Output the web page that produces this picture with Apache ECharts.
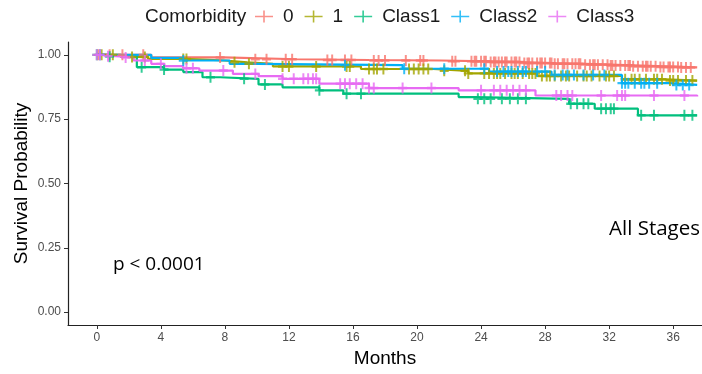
<!DOCTYPE html>
<html>
<head>
<meta charset="utf-8">
<script src="https://cdn.jsdelivr.net/npm/echarts@6/dist/echarts.min.js"></script>
<style>
    html, body { margin: 0; padding: 0; background: #fff; }
    #chart { width: 702px; height: 374px; }
</style>
</head>
<body>
<div id="chart"></div>
<script>
    // Kaplan-Meier steps (months, survival)
    const groupNames = ['0', '1', 'Class1', 'Class2', 'Class3'];
    const groupColors = ['#F8766D', '#A3A500', '#00BF7D', '#00B0F6', '#E76BF3'];

    const time0 = [0, 3.4, 7.9, 12.5, 17.0, 21.5, 24.5, 26.5, 28.5, 30.5, 32.0, 33.5, 35.0, 36.5, 37.5];
    const surv0 = [1, 0.99, 0.983, 0.98, 0.978, 0.975, 0.972, 0.968, 0.965, 0.962, 0.959, 0.956, 0.953, 0.951, 0.951];
    const cens0 = [0.1, 0.8, 1.6, 2.9, 7.7, 9.9, 10.6, 11.8, 12.2, 14.4, 14.7, 15.5, 15.9, 17.3, 17.6, 18.0, 19.3,
        20.2, 20.4, 22.2, 22.4, 23.4, 23.6, 23.7, 24.0, 24.2, 24.3, 24.6, 24.8, 24.9, 25.1, 25.3, 25.5, 25.6,
        25.9, 26.1, 26.2, 26.4, 26.7, 26.9, 27.0, 27.2, 27.5, 27.7, 27.8, 28.0, 28.3, 28.4, 28.6, 28.8, 29.1,
        29.2, 29.4, 29.7, 29.9, 30.1, 30.2, 30.5, 30.8, 31.0, 31.1, 31.3, 31.6, 31.9, 32.1, 32.2, 32.4, 32.7,
        33.0, 33.2, 33.3, 33.5, 33.8, 34.1, 34.3, 34.4, 34.6, 34.9, 35.2, 35.4, 35.7, 35.8, 36.0, 36.3, 36.5,
        36.8, 37.1];

    const time1 = [0, 1.5, 3.2, 5.8, 8.0, 9.4, 11.0, 16.5, 21.0, 23.2, 27.5, 32.8, 35.5, 37.5];
    const surv1 = [1, 0.992, 0.984, 0.978, 0.971, 0.965, 0.955, 0.945, 0.938, 0.928, 0.918, 0.905, 0.9, 0.9];
    const cens1 = [0.3, 1.0, 2.2, 3.0, 5.4, 5.6, 8.6, 9.5, 11.6, 12.0, 13.7, 15.6, 15.8, 17.0, 17.3, 17.5, 17.9,
        19.5, 19.8, 20.1, 20.4, 20.7, 21.7, 23.0, 23.2, 24.2, 24.5, 24.8, 25.0, 25.2, 25.5, 25.9, 26.1, 26.3,
        26.6, 27.0, 27.2, 27.4, 27.8, 28.1, 28.3, 28.6, 29.0, 29.3, 29.5, 30.0, 30.4, 30.6, 30.9, 31.4, 31.8,
        32.0, 32.3, 33.0, 33.4, 33.6, 33.9, 34.3, 34.8, 35.0, 35.3, 35.8, 36.0, 36.3, 36.8, 37.2];

    const timeC1 = [0, 0.5, 2.5, 4.2, 5.4, 6.6, 7.7, 10.1, 11.6, 13.9, 15.4, 22.6, 23.6, 29.5, 31.1, 33.8, 37.5];
    const survC1 = [1, 0.993, 0.952, 0.943, 0.933, 0.913, 0.907, 0.885, 0.874, 0.862, 0.849, 0.836, 0.829, 0.81, 0.791, 0.765, 0.765];
    const censC1 = [0.0, 0.8, 2.8, 4.2, 7.1, 9.2, 10.5, 13.9, 15.6, 16.5, 23.8, 24.2, 24.6, 25.3, 25.8, 26.3,
        26.8, 29.6, 30.0, 30.4, 30.7, 31.5, 31.8, 32.1, 32.3, 34.0, 34.8, 36.7, 37.2];

    const timeC2 = [0, 3.4, 5.4, 8.3, 10.0, 19.1, 24.5, 28.4, 32.8, 35.8, 37.5];
    const survC2 = [1, 0.988, 0.978, 0.965, 0.96, 0.946, 0.935, 0.922, 0.89, 0.883, 0.883];
    const censC2 = [0.2, 5.4, 15.5, 19.2, 21.7, 24.2, 25.0, 25.4, 25.7, 25.9, 26.3, 26.6, 26.8, 27.5, 28.0, 28.6,
        29.1, 29.4, 29.8, 30.4, 31.0, 31.7, 32.8, 33.0, 33.2, 33.6, 34.0, 34.2, 34.5, 35.0, 36.2, 36.6, 37.0];

    const timeC3 = [0, 0.5, 1.2, 2.3, 3.4, 4.2, 5.4, 6.4, 8.5, 10.1, 11.6, 13.9, 17.0, 22.6, 27.4, 37.5];
    const survC3 = [1, 0.995, 0.99, 0.978, 0.965, 0.956, 0.948, 0.939, 0.926, 0.917, 0.907, 0.888, 0.871, 0.862, 0.842, 0.838];
    const censC3 = [0.0, 0.2, 0.7, 1.8, 3.0, 4.0, 5.6, 6.0, 7.9, 9.9, 11.6, 12.3, 12.9, 13.2, 13.5, 13.7, 15.2,
        15.5, 15.8, 16.2, 16.6, 17.0, 17.3, 19.1, 20.9, 24.0, 24.8, 25.2, 25.6, 26.0, 26.4, 26.8, 28.7, 29.0,
        29.4, 29.7, 31.5, 32.5, 32.8, 33.0, 34.8, 36.7];

    const xTicks = [0, 4, 8, 12, 16, 20, 24, 28, 32, 36];
    const yTicks = [0, 0.25, 0.5, 0.75, 1];

    const groups = [
        [time0, surv0, cens0],
        [time1, surv1, cens1],
        [timeC1, survC1, censC1],
        [timeC2, survC2, censC2],
        [timeC3, survC3, censC3],
    ];

    const plusMark = 'path://M0,3.9L10,3.9L10,6.1L0,6.1Z M3.9,0L6.1,0L6.1,10L3.9,10Z';
    const plusLegend = 'path://M0,5.2L18,5.2L18,6.8L0,6.8Z M8.2,0L9.8,0L9.8,12L8.2,12Z';

    // survival value of the step curve at time x
    function survAt(times, surv, x) {
        let v = surv[0];
        for (let i = 0; i < times.length; i++) {
            if (times[i] <= x) v = surv[i];
        }
        return v;
    }

    const series = [];
    // censor marks first so the legend takes its colour from them
    groups.forEach(([t, s, c], i) => {
        series.push({
            name: groupNames[i],
            type: 'scatter',
            z: 3,
            symbol: plusMark,
            symbolSize: [9, 11],
            itemStyle: { color: groupColors[i] },
            data: c.map((x) => [x, survAt(t, s, x)]),
            silent: true,
        });
    });
    groups.forEach(([t, s], i) => {
        series.push({
            name: groupNames[i],
            type: 'line',
            z: 2,
            step: 'end',
            showSymbol: false,
            symbol: 'none',
            lineStyle: { color: groupColors[i], width: 2.2 },
            itemStyle: { color: groupColors[i] },
            data: t.map((x, k) => [x, s[k]]),
            silent: true,
        });
    });

    const chart = echarts.init(document.getElementById('chart'));
    chart.setOption({
        animation: false,
        textStyle: { fontFamily: 'Liberation Sans' },
        title: {
            text: 'Comorbidity',
            left: 145,
            top: 7,
            padding: 0,
            textStyle: { fontSize: 19, fontWeight: 'normal', color: '#1a1a1a', fontFamily: 'Liberation Sans' },
        },
        legend: {
            data: groupNames.map((n) => ({ name: n, icon: plusLegend })),
            left: 255,
            top: 7,
            padding: 0,
            itemWidth: 18,
            itemHeight: 12,
            itemGap: 11,
            selectedMode: false,
            textStyle: { fontSize: 19, color: '#1a1a1a', padding: [0, 0, 0, 5], fontFamily: 'Liberation Sans' },
        },
        grid: { left: 68, top: 42, width: 643, height: 283 },
        xAxis: {
            type: 'value',
            min: -1.8,
            max: 37.8,
            name: 'Months',
            nameLocation: 'middle',
            nameGap: 22,
            nameTextStyle: { fontSize: 19, color: '#000' },
            axisLine: { onZero: false, lineStyle: { color: '#222', width: 1.2 } },
            axisTick: { customValues: xTicks, length: 4, lineStyle: { color: '#333' } },
            axisLabel: { customValues: xTicks, fontSize: 12, color: '#4d4d4d', margin: 7 },
            splitLine: { show: false },
        },
        yAxis: {
            type: 'value',
            min: -0.05,
            max: 1.05,
            name: 'Survival Probability',
            nameLocation: 'middle',
            nameGap: 37,
            nameMoveOverlap: false,
            nameTextStyle: { fontSize: 19, color: '#000' },
            axisLine: { show: true, onZero: false, lineStyle: { color: '#222', width: 1.2 } },
            axisTick: { show: true, customValues: yTicks, length: 4, lineStyle: { color: '#333' } },
            axisLabel: {
                customValues: yTicks,
                fontSize: 12,
                color: '#4d4d4d',
                margin: 7,
                formatter: (v) => v.toFixed(2),
            },
            splitLine: { show: false },
        },
        graphic: [
            {
                type: 'text',
                left: 113,
                top: 255,
                style: { text: 'p < 0.0001', fontSize: 19, fill: '#000', fontFamily: 'Open Sans' },
            },
            {
                type: 'text',
                right: 2,
                top: 219,
                style: { text: 'All Stages', fontSize: 20.5, fill: '#000', fontFamily: 'Open Sans' },
            },
        ],
        series: series,
    });
</script>
</body>
</html>
